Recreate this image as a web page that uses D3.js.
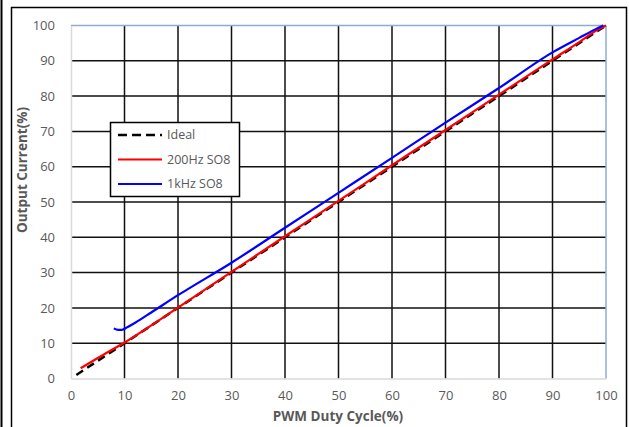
<!DOCTYPE html>
<html>
<head>
<meta charset="utf-8">
<script src="https://cdn.jsdelivr.net/npm/d3@7"></script>
<style>
  body { margin: 0; background: #fff; }
  svg text { font-family: "Open Sans", sans-serif; fill: #595959; }
</style>
</head>
<body>
<div id="chart"></div>
<script>
// data
var xTicks = [0, 10, 20, 30, 40, 50, 60, 70, 80, 90, 100];
var yTicks = [0, 10, 20, 30, 40, 50, 60, 70, 80, 90, 100];

var idealX = [1, 100];
var idealY = [1, 100];

var red200X = [1.8, 5, 10, 20, 30, 40, 50, 60, 70, 80, 90, 95, 98, 100];
var red200Y = [2.9, 5.8, 10.2, 20.1, 30.2, 40.3, 50.3, 60.4, 70.4, 80.4, 90.4, 95.3, 98.4, 100];

var blue1kX = [8, 8.8, 9.5, 10.5, 12, 15, 20, 30, 40, 50, 60, 70, 80, 90, 95, 98, 99.5];
var blue1kY = [14.2, 13.8, 13.8, 14.5, 15.8, 18.7, 23.6, 32.8, 42.7, 52.6, 62.5, 72.5, 82.3, 92.4, 96.5, 98.9, 100];

var legendNames = ["Ideal", "200Hz SO8", "1kHz SO8"];
var legendColors = ["#000000", "#ff0000", "#0000ff"];

var W = 629, H = 427;
var plot = { left: 71, right: 606, top: 25.5, bottom: 378.5 };

var svg = d3.select("#chart")
    .append("svg")
    .attr("width", W)
    .attr("height", H);

// outer frames
svg.append("line")
    .attr("x1", 1.5).attr("x2", 1.5).attr("y1", 0).attr("y2", H)
    .attr("stroke", "#000").attr("stroke-width", 2);
svg.append("rect")
    .attr("x", 11.5).attr("y", 7.5)
    .attr("width", 615).attr("height", H)
    .attr("fill", "none")
    .attr("stroke", "#000").attr("stroke-width", 1.5);

var x = d3.scaleLinear().domain([0, 100]).range([plot.left, plot.right]);
var y = d3.scaleLinear().domain([0, 100]).range([plot.bottom, plot.top]);

// grid lines
svg.append("g")
    .selectAll("line")
    .data(xTicks.filter(function (d) { return d > 0 && d < 100; }))
    .enter()
    .append("line")
    .attr("x1", function (d) { return x(d); })
    .attr("x2", function (d) { return x(d); })
    .attr("y1", plot.top).attr("y2", plot.bottom)
    .attr("stroke", "#111").attr("stroke-width", 1.5);

svg.append("g")
    .selectAll("line")
    .data(yTicks.filter(function (d) { return d > 0 && d < 100; }))
    .enter()
    .append("line")
    .attr("y1", function (d) { return y(d); })
    .attr("y2", function (d) { return y(d); })
    .attr("x1", plot.left).attr("x2", plot.right)
    .attr("stroke", "#111").attr("stroke-width", 1.5);

// plot border: top / right blue-ish, left / bottom gray
svg.append("line")
    .attr("x1", plot.left).attr("x2", plot.right)
    .attr("y1", plot.top).attr("y2", plot.top)
    .attr("stroke", "#8eaadb").attr("stroke-width", 1.5);
svg.append("line")
    .attr("x1", plot.right).attr("x2", plot.right)
    .attr("y1", plot.top).attr("y2", plot.bottom)
    .attr("stroke", "#8eaadb").attr("stroke-width", 1.5);

// axes
var xAxis = svg.append("g")
    .attr("transform", "translate(0," + plot.bottom + ")")
    .call(d3.axisBottom(x).tickValues(xTicks).tickSize(0).tickPadding(12));
var yAxis = svg.append("g")
    .attr("transform", "translate(" + plot.left + ",0)")
    .call(d3.axisLeft(y).tickValues(yTicks).tickSize(0).tickPadding(16));

[xAxis, yAxis].forEach(function (a) {
    a.select(".domain").attr("stroke", "#d9d9d9").attr("stroke-width", 1.5);
    a.selectAll("text")
        .style("font-family", "'Open Sans', sans-serif")
        .style("font-size", "13px")
        .attr("fill", "#595959");
});

// axis titles
svg.append("text")
    .attr("x", 338).attr("y", 421)
    .attr("text-anchor", "middle")
    .style("font-size", "13.5px")
    .style("font-weight", "bold")
    .text("PWM Duty Cycle(%)");

svg.append("text")
    .attr("transform", "translate(27,170) rotate(-90)")
    .attr("text-anchor", "middle")
    .style("font-size", "13.5px")
    .style("font-weight", "bold")
    .text("Output Current(%)");

// series
function pts(xs, ys) {
    return xs.map(function (d, i) { return [d, ys[i]]; });
}
var line = d3.line()
    .x(function (d) { return x(d[0]); })
    .y(function (d) { return y(d[1]); })
    .curve(d3.curveMonotoneX);

svg.append("path")
    .datum(pts(idealX, idealY))
    .attr("d", line)
    .attr("fill", "none")
    .attr("stroke", "#000")
    .attr("stroke-width", 2.5)
    .attr("stroke-dasharray", "8,5");

svg.append("path")
    .datum(pts(red200X, red200Y))
    .attr("d", line)
    .attr("fill", "none")
    .attr("stroke", "#ff0000")
    .attr("stroke-width", 2.2);

svg.append("path")
    .datum(pts(blue1kX, blue1kY))
    .attr("d", line)
    .attr("fill", "none")
    .attr("stroke", "#0000ff")
    .attr("stroke-width", 2.2);

// legend
var lg = svg.append("g").attr("transform", "translate(110,122)");
lg.append("rect")
    .attr("x", 0.5).attr("y", 0.5)
    .attr("width", 129).attr("height", 74)
    .attr("fill", "#fff")
    .attr("stroke", "#000").attr("stroke-width", 1.5);

var item = lg.selectAll(".item")
    .data(legendNames)
    .enter()
    .append("g")
    .attr("transform", function (d, i) { return "translate(0," + (13 + i * 24.5) + ")"; });

item.append("line")
    .attr("x1", 8).attr("x2", 52)
    .attr("y1", 0).attr("y2", 0)
    .attr("stroke", function (d, i) { return legendColors[i]; })
    .attr("stroke-width", function (d, i) { return i == 0 ? 2.5 : 2; })
    .attr("stroke-dasharray", function (d, i) { return i == 0 ? "9,5" : null; });

item.append("text")
    .attr("x", 57).attr("y", 0)
    .attr("dy", "0.35em")
    .style("font-size", "12.5px")
    .text(function (d) { return d; });
</script>
</body>
</html>
